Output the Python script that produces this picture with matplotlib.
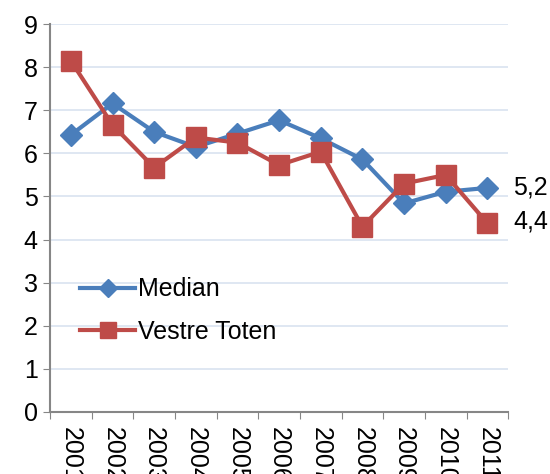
import matplotlib.pyplot as plt
import numpy as np

plt.rcParams['font.family'] = ['Liberation Sans', 'DejaVu Sans']

years = ['2001', '2002', '2003', '2004', '2005', '2006', '2007', '2008', '2009', '2010', '2011']
median = [6.43, 7.16, 6.50, 6.15, 6.46, 6.77, 6.35, 5.86, 4.84, 5.11, 5.20]
vestre_toten = [8.15, 6.66, 5.67, 6.37, 6.25, 5.73, 6.04, 4.30, 5.30, 5.50, 4.38]
end_labels = ['5,2', '4,4']

blue = '#4A7EBB'
red = '#BE4B48'
grey = '#868686'
fs = 18

fig = plt.figure(figsize=(5.5, 4.74), dpi=100)
ax = fig.add_axes([0.091, 0.131, 0.833, 0.818])

x = np.arange(len(years))
ax.plot(x, median, color=blue, lw=3, marker='D', ms=11, label='Median', zorder=3)
ax.plot(x, vestre_toten, color=red, lw=3, marker='s', ms=14, label='Vestre Toten', zorder=4)

ax.text(x[-1] + 0.62, median[-1], end_labels[0], fontsize=fs, va='center', ha='left')
ax.text(x[-1] + 0.62, vestre_toten[-1] + 0.05, end_labels[1], fontsize=fs, va='center', ha='left')

ax.set_xlim(-0.5, len(years) - 0.5)
ax.set_ylim(0, 9)
ax.set_yticks(range(0, 10))
ax.tick_params(axis='y', labelsize=fs, length=5, color=grey, direction='out', pad=4)
ax.yaxis.grid(True, color='#D9E3F0', lw=1.2)
ax.set_axisbelow(True)

# ticks at category boundaries, labels at centres
ax.set_xticks(np.arange(-0.5, len(years)), labels=[])
ax.set_xticks(x, labels=years, minor=True)
ax.tick_params(axis='x', which='major', length=5, color=grey, direction='out')
ax.tick_params(axis='x', which='minor', length=0, labelsize=fs, labelrotation=270, pad=11)
for lab in ax.get_xticklabels(minor=True):
    lab.set_va('top')

for side in ['top', 'right']:
    ax.spines[side].set_visible(False)
for side in ['left', 'bottom']:
    ax.spines[side].set_color(grey)
    ax.spines[side].set_linewidth(1.5)

ax.legend(loc='lower left', bbox_to_anchor=(0.066, 0.175), frameon=False, fontsize=fs,
          handlelength=2.2, handletextpad=0.1, labelspacing=0.75, borderaxespad=0,
          borderpad=0, markerscale=0.8)

fig.savefig('out.png', dpi=100)
